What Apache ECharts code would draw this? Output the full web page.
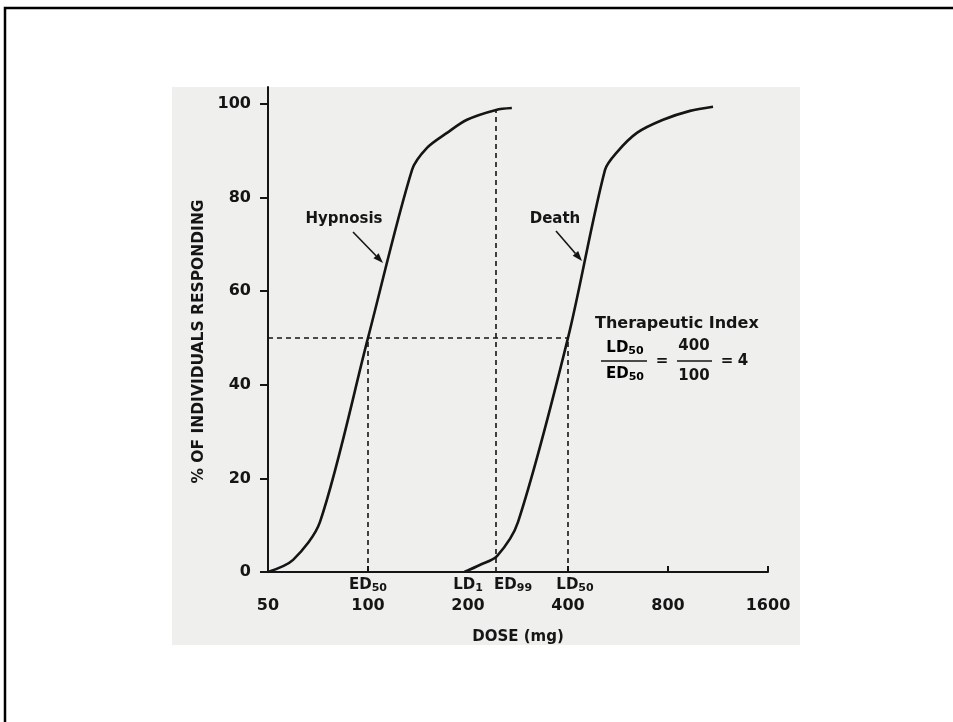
<!DOCTYPE html>
<html>
<head>
<meta charset="utf-8">
<script src="https://cdn.jsdelivr.net/npm/echarts@6/dist/echarts.min.js"></script>
<style>
html,body{margin:0;padding:0;background:#fff;}
#chart{width:953px;height:722px;}
</style>
</head>
<body>
<div id="chart"></div>
<script>
// ---- data ----
const xTicks = [50, 100, 200, 400, 800, 1600];
const xTickMarks = [100, 400, 800, 1600];
const yTicks = [0, 20, 40, 60, 80, 100];

const hypnosisDose = [50, 59.5, 71.7, 100, 135.7, 150.5, 172.9, 198.6, 243, 271];
const hypnosisPct  = [0, 2.6, 10.7, 50, 85.9, 90.6, 93.8, 96.6, 98.7, 99.1];

const deathDose = [195, 217, 244.5, 283, 400, 517, 562, 645, 773, 932, 1093];
const deathPct  = [0, 1.5, 3.4, 10.7, 50, 85.9, 89.7, 93.8, 96.6, 98.5, 99.4];

const ed50 = 100, ld50 = 400, ld1 = 200, ed99 = 243, ed99Pct = 98.7, midPct = 50;

// ---- styling ----
const FONT = 'DejaVu Sans';
const INK = '#151515';
const subRich = {
  m: {fontFamily: FONT, fontWeight: 'bold', fontSize: 15, color: INK, lineHeight: 18},
  s: {fontFamily: FONT, fontWeight: 'bold', fontSize: 11, color: INK, lineHeight: 14, padding: [6, 0, 0, 0]}
};

const toPairs = (xs, ys) => xs.map((x, i) => [x, ys[i]]);

function arrow(x1, y1, x2, y2) {
  const dx = x2 - x1, dy = y2 - y1, L = Math.hypot(dx, dy);
  const ux = dx / L, uy = dy / L, hl = 10, hw = 3.6;
  const bx = x2 - ux * hl, by = y2 - uy * hl;
  return [
    {type: 'line', shape: {x1: x1, y1: y1, x2: bx, y2: by}, style: {stroke: INK, lineWidth: 1.6}, silent: true},
    {type: 'polygon', shape: {points: [[x2, y2], [bx - uy * hw, by + ux * hw], [bx + uy * hw, by - ux * hw]]}, style: {fill: INK}, silent: true}
  ];
}

function txt(x, y, text, size, align) {
  return {type: 'text', x: x, y: y, silent: true,
    style: {text: text, fontFamily: FONT, fontWeight: 'bold', fontSize: size, fill: INK,
      align: align || 'center', verticalAlign: 'middle'}};
}
function richTxt(x, y, text) {
  return {type: 'text', x: x, y: y, silent: true,
    style: {text: text, rich: subRich, align: 'center', verticalAlign: 'middle'}};
}

const dash = {color: INK, width: 1.6, type: [5, 4]};

const graphics = [
  {type: 'rect', z: -10, silent: true, shape: {x: 172, y: 87, width: 628, height: 558}, style: {fill: '#efefed'}},
  {type: 'polyline', silent: true, shape: {points: [[5, 722], [5, 8], [953, 8]]}, style: {stroke: '#000', lineWidth: 2.5, fill: null}},
  txt(344, 219, 'Hypnosis', 15),
  txt(555, 219, 'Death', 15),
  ...arrow(353, 232, 383, 263),
  ...arrow(556, 231, 582, 261),
  txt(595, 324, 'Therapeutic Index', 16, 'left'),
  richTxt(625, 348, '{m|LD}{s|50}'),
  richTxt(625, 374, '{m|ED}{s|50}'),
  {type: 'line', silent: true, shape: {x1: 601, y1: 361, x2: 647, y2: 361}, style: {stroke: INK, lineWidth: 1.6}},
  txt(662, 361, '=', 15),
  txt(694, 346, '400', 15),
  txt(694, 376, '100', 15),
  {type: 'line', silent: true, shape: {x1: 677, y1: 361, x2: 712, y2: 361}, style: {stroke: INK, lineWidth: 1.6}},
  txt(727, 361, '=', 15),
  txt(743, 361, '4', 15)
];

const chart = echarts.init(document.getElementById('chart'), null, {renderer: 'canvas'});
chart.setOption({
  animation: false,
  backgroundColor: '#ffffff',
  grid: {left: 268, right: 185, top: 87, bottom: 150, containLabel: false},
  xAxis: {
    type: 'log', logBase: 2, min: 50, max: 1600,
    name: 'DOSE (mg)', nameLocation: 'middle', nameGap: 58,
    nameTextStyle: {fontFamily: FONT, fontWeight: 'bold', fontSize: 15, color: INK},
    axisLine: {lineStyle: {color: INK, width: 2}},
    axisTick: {inside: true, length: 6, customValues: xTickMarks, lineStyle: {color: INK, width: 2}},
    axisLabel: {customValues: xTicks, margin: 26, fontFamily: FONT, fontWeight: 'bold', fontSize: 16, color: INK,
      formatter: v => String(Math.round(v))},
    splitLine: {show: false}, minorTick: {show: false}
  },
  yAxis: {
    type: 'value', min: 0, max: 103.6,
    name: '% OF INDIVIDUALS RESPONDING', nameLocation: 'middle', nameGap: 58, nameRotate: 90,
    nameTextStyle: {fontFamily: FONT, fontWeight: 'bold', fontSize: 15.5, color: INK, padding: [0, 24, 0, 0]},
    axisLine: {show: true, lineStyle: {color: INK, width: 2}},
    axisTick: {show: true, length: 8, customValues: yTicks, lineStyle: {color: INK, width: 2}},
    axisLabel: {customValues: yTicks, margin: 17, fontFamily: FONT, fontWeight: 'bold', fontSize: 16, color: INK},
    splitLine: {show: false}
  },
  series: [
    {
      name: 'Hypnosis', type: 'line', data: toPairs(hypnosisDose, hypnosisPct),
      smooth: 0.3, showSymbol: false, symbol: 'none',
      lineStyle: {color: INK, width: 2.6}, z: 3,
      markLine: {
        silent: true, symbol: ['none', 'none'], label: {show: false}, lineStyle: dash,
        data: [
          [{coord: [ed50, 0]}, {coord: [ed50, midPct]}],
          [{coord: [xTicks[0], midPct]}, {coord: [ld50, midPct]}],
          [{coord: [ld50, 0]}, {coord: [ld50, midPct]}],
          [{coord: [ed99, 0]}, {coord: [ed99, ed99Pct]}]
        ]
      }
    },
    {
      name: 'Death', type: 'line', data: toPairs(deathDose, deathPct),
      smooth: 0.3, showSymbol: false, symbol: 'none',
      lineStyle: {color: INK, width: 2.6}, z: 3,
      markPoint: {
        silent: true, symbol: 'circle', symbolSize: 0,
        label: {show: true, position: 'bottom', distance: 4, rich: subRich},
        data: [
          {coord: [ed50, 0], label: {formatter: '{m|ED}{s|50}'}},
          {coord: [ld1, 0], label: {formatter: '{m|LD}{s|1}'}},
          {coord: [ed99, 0], label: {formatter: '{m|ED}{s|99}', offset: [17, 0]}},
          {coord: [ld50, 0], label: {formatter: '{m|LD}{s|50}', offset: [7, 0]}}
        ]
      }
    }
  ],
  graphic: graphics
});
</script>
</body>
</html>
